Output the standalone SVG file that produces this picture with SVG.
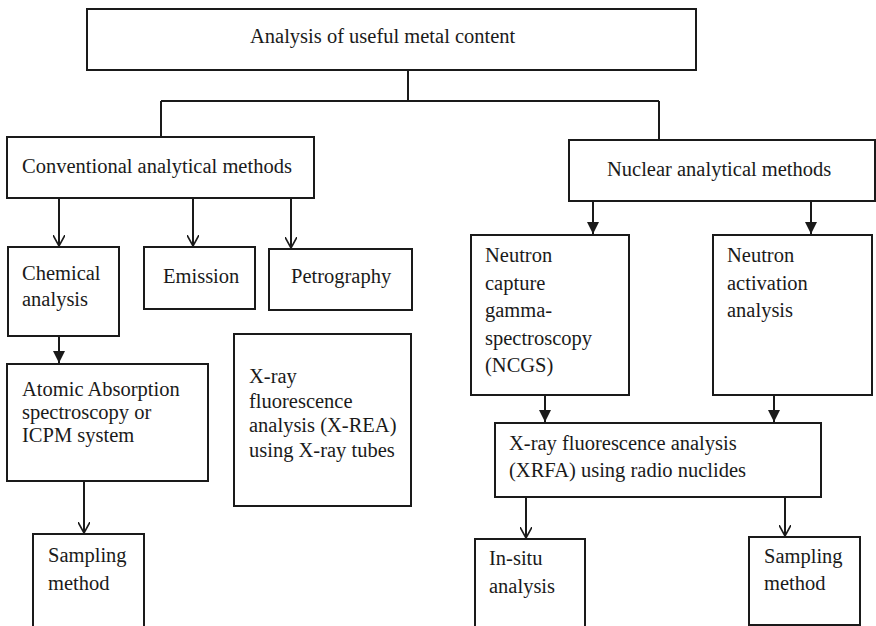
<svg xmlns="http://www.w3.org/2000/svg" width="876" height="626" viewBox="0 0 876 626">
<style>
rect{fill:#fff;stroke:#1a1a1a;stroke-width:2}
text{font-family:'Liberation Serif','DejaVu Serif',serif;font-size:20.5px;fill:#1a1a1a}
.c{fill:none;stroke:#1a1a1a;stroke-width:2}
</style>
<defs>
<marker id="open" viewBox="0 0 12 12" refX="11" refY="6" markerWidth="12" markerHeight="12" markerUnits="userSpaceOnUse" orient="auto">
<path d="M0,0 L11,6 L0,12" fill="none" stroke="#1a1a1a" stroke-width="1.6"/>
</marker>
<marker id="fill" viewBox="0 0 12 12" refX="12" refY="6" markerWidth="12" markerHeight="12" markerUnits="userSpaceOnUse" orient="auto">
<path d="M0,0 L12,6 L0,12 Z" fill="#1a1a1a"/>
</marker>
</defs>
<g id="connectors">
<path class="c" d="M408,70 V101 M161,101 H659 M161,101 V137 M659,101 V140"/>
<path class="c" d="M59,198 V246" marker-end="url(#open)"/>
<path class="c" d="M193,198 V246" marker-end="url(#open)"/>
<path class="c" d="M291,198 V248" marker-end="url(#open)"/>
<path class="c" d="M59,336 V363" marker-end="url(#fill)"/>
<path class="c" d="M84,481 V533" marker-end="url(#open)"/>
<path class="c" d="M593,201 V234" marker-end="url(#fill)"/>
<path class="c" d="M811,201 V234" marker-end="url(#fill)"/>
<path class="c" d="M545,395 V422" marker-end="url(#fill)"/>
<path class="c" d="M774,395 V422" marker-end="url(#fill)"/>
<path class="c" d="M526,497 V538" marker-end="url(#open)"/>
<path class="c" d="M785,497 V536" marker-end="url(#open)"/>
</g>
<g id="root"><rect x="87" y="9" width="609" height="61"/><text x="250" y="43">Analysis of useful metal content</text></g>
<g id="conventional"><rect x="7" y="137" width="307" height="61"/><text x="22" y="173">Conventional analytical methods</text></g>
<g id="nuclear"><rect x="569" y="140" width="306" height="61"/><text x="607" y="176">Nuclear analytical methods</text></g>
<g id="chemical"><rect x="8" y="247" width="111" height="89"/><text x="22" y="280">Chemical</text><text x="22" y="306">analysis</text></g>
<g id="emission"><rect x="144" y="247" width="111" height="62"/><text x="163" y="283">Emission</text></g>
<g id="petrography"><rect x="269" y="249" width="143" height="61"/><text x="291" y="283">Petrography</text></g>
<g id="atomic"><rect x="7" y="364" width="201" height="117"/><text x="22" y="396">Atomic Absorption</text><text x="22" y="419">spectroscopy or</text><text x="22" y="442">ICPM system</text></g>
<g id="xrea"><rect x="234" y="334" width="177" height="172"/><text x="249" y="383">X-ray</text><text x="249" y="408">fluorescence</text><text x="249" y="432">analysis (X-REA)</text><text x="249" y="457">using X-ray tubes</text></g>
<g id="sampling-left"><rect x="33" y="534" width="111" height="100"/><text x="48" y="562">Sampling</text><text x="48" y="590">method</text></g>
<g id="ncgs"><rect x="471" y="235" width="158" height="160"/><text x="485" y="262">Neutron</text><text x="485" y="290">capture</text><text x="485" y="317">gamma-</text><text x="485" y="345">spectroscopy</text><text x="485" y="372">(NCGS)</text></g>
<g id="naa"><rect x="713" y="235" width="159" height="160"/><text x="727" y="262">Neutron</text><text x="727" y="290">activation</text><text x="727" y="317">analysis</text></g>
<g id="xrfa"><rect x="495" y="423" width="326" height="74"/><text x="509" y="450">X-ray fluorescence analysis</text><text x="509" y="477">(XRFA) using radio nuclides</text></g>
<g id="insitu"><rect x="475" y="539" width="110" height="100"/><text x="489" y="565">In-situ</text><text x="489" y="593">analysis</text></g>
<g id="sampling-right"><rect x="749" y="537" width="111" height="88"/><text x="764" y="563">Sampling</text><text x="764" y="590">method</text></g>
</svg>
